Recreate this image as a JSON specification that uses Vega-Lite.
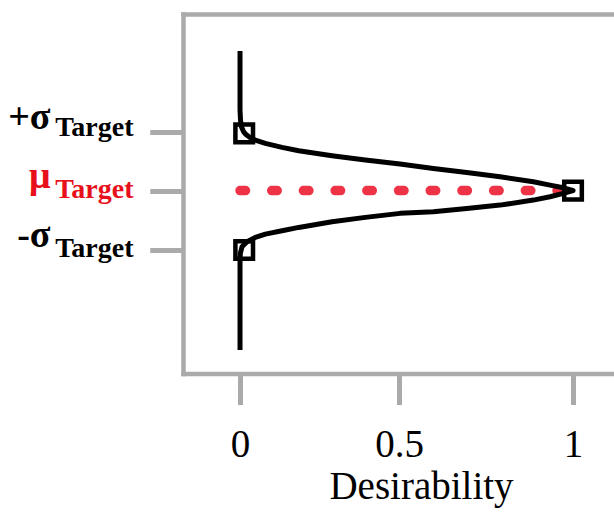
{
  "$schema": "https://vega.github.io/schema/vega-lite/v6.json",
  "autosize": "none",
  "width": 431,
  "height": 359.5,
  "padding": {"left": 183, "top": 14, "right": 0, "bottom": 153.5},
  "background": "white",
  "config": {
    "view": {"stroke": null},
    "axis": {"grid": false, "labelOverlap": false, "labelFlush": false, "labelBound": false},
    "font": "Liberation Serif"
  },
  "datasets": {
    "mu": [{"d": 0, "y": 0}, {"d": 1, "y": 0}],
    "curve": [
      {"i": 1, "d": 0, "y": 2.364},
      {"i": 2, "d": 0, "y": 1.364},
      {"i": 3, "d": 0.0022, "y": 1.195},
      {"i": 4, "d": 0.0063, "y": 1.076},
      {"i": 5, "d": 0.0139, "y": 1.0},
      {"i": 6, "d": 0.0231, "y": 0.949},
      {"i": 7, "d": 0.0373, "y": 0.898},
      {"i": 8, "d": 0.0556, "y": 0.856},
      {"i": 9, "d": 0.0892, "y": 0.8},
      {"i": 10, "d": 0.1434, "y": 0.732},
      {"i": 11, "d": 0.1963, "y": 0.675},
      {"i": 12, "d": 0.2992, "y": 0.59},
      {"i": 13, "d": 0.3998, "y": 0.517},
      {"i": 14, "d": 0.5028, "y": 0.449},
      {"i": 15, "d": 0.6004, "y": 0.376},
      {"i": 16, "d": 0.6972, "y": 0.308},
      {"i": 17, "d": 0.7929, "y": 0.234},
      {"i": 18, "d": 0.8877, "y": 0.149},
      {"i": 19, "d": 0.935, "y": 0.093},
      {"i": 20, "d": 0.9727, "y": 0.047},
      {"i": 21, "d": 0.9963, "y": 0.008},
      {"i": 22, "d": 1.0, "y": 0},
      {"i": 23, "d": 0.9727, "y": -0.047},
      {"i": 24, "d": 0.935, "y": -0.105},
      {"i": 25, "d": 0.8877, "y": -0.161},
      {"i": 26, "d": 0.7929, "y": -0.246},
      {"i": 27, "d": 0.6972, "y": -0.302},
      {"i": 28, "d": 0.6004, "y": -0.359},
      {"i": 29, "d": 0.5028, "y": -0.386},
      {"i": 30, "d": 0.3998, "y": -0.454},
      {"i": 31, "d": 0.2992, "y": -0.529},
      {"i": 32, "d": 0.1963, "y": -0.624},
      {"i": 33, "d": 0.1434, "y": -0.681},
      {"i": 34, "d": 0.0892, "y": -0.737},
      {"i": 35, "d": 0.0556, "y": -0.793},
      {"i": 36, "d": 0.0267, "y": -0.868},
      {"i": 37, "d": 0.0082, "y": -0.953},
      {"i": 38, "d": 0.0014, "y": -1.064},
      {"i": 39, "d": 0, "y": -1.234},
      {"i": 40, "d": 0, "y": -2.703}
    ],
    "pts": [
      {"d": 0.0165, "y": 0.969},
      {"d": 1, "y": 0},
      {"d": 0.0165, "y": -1.008}
    ]
  },
  "resolve": {"axis": {"x": "independent", "y": "independent"}},
  "layer": [
    {
      "data": {"name": "mu"},
      "mark": {"type": "line", "color": "#ef3346", "strokeWidth": 9.5, "strokeDash": [5.5, 26.2], "strokeCap": "round"},
      "encoding": {
        "x": {
          "field": "d", "type": "quantitative",
          "scale": {"type": "pow", "exponent": 1.066, "domain": [-0.191, 1.115], "nice": false, "zero": false},
          "axis": {
            "orient": "bottom", "values": [0, 0.5, 1], "format": "~g",
            "domain": true, "domainColor": "#aaaaaa", "domainWidth": 4.5, "domainCap": "square",
            "ticks": true, "tickSize": 31, "tickWidth": 5, "tickColor": "#aaaaaa",
            "labelFont": "Liberation Serif", "labelFontSize": 39, "labelColor": "black",
            "labelBaseline": "alphabetic", "labelPadding": 51.5,
            "title": "Desirability", "titleFont": "Liberation Serif", "titleFontSize": 39,
            "titleFontWeight": "normal", "titleColor": "black", "titleBaseline": "alphabetic",
            "titleX": 238, "titleY": 124.5, "titleAlign": "center", "titleAnchor": null
          }
        },
        "y": {
          "field": "y", "type": "quantitative",
          "scale": {"domain": [-3.1, 2.993], "nice": false, "zero": false},
          "axis": {
            "orient": "left", "values": [-1, 0, 1],
            "labelExpr": "datum.value > 0.5 ? '+σ' : (datum.value < -0.5 ? '-σ' : 'μ')",
            "domain": true, "domainColor": "#aaaaaa", "domainWidth": 4.5, "domainCap": "square",
            "ticks": true, "tickSize": 33, "tickWidth": 5, "tickColor": "#aaaaaa",
            "labelFont": "Liberation Serif", "labelFontSize": 38, "labelFontWeight": "bold",
            "labelColor": {"condition": {"test": "datum.value == 0", "value": "#e8101a"}, "value": "black"},
            "labelAlign": "right", "labelBaseline": "alphabetic", "labelPadding": 100, "labelOffset": -3,
            "title": null
          }
        }
      }
    },
    {
      "data": {"name": "curve"},
      "mark": {"type": "line", "color": "black", "strokeWidth": 5, "strokeJoin": "round"},
      "encoding": {
        "x": {
          "field": "d", "type": "quantitative",
          "axis": {
            "orient": "top", "labels": false, "ticks": false, "title": null,
            "domain": true, "domainColor": "#aaaaaa", "domainWidth": 4.5, "domainCap": "square"
          }
        },
        "y": {
          "field": "y", "type": "quantitative",
          "axis": {
            "orient": "left", "values": [-1, 0, 1], "labelExpr": "'Target'",
            "domain": false,
            "ticks": true, "tickSize": 33, "tickWidth": 5, "tickColor": "#aaaaaa",
            "labelFont": "Liberation Serif", "labelFontSize": 28, "labelFontWeight": "bold",
            "labelColor": {"condition": {"test": "datum.value == 0", "value": "#e8101a"}, "value": "black"},
            "labelAlign": "right", "labelBaseline": "alphabetic", "labelPadding": 17,
            "labelOffset": {"condition": {"test": "datum.value == 1", "value": 3.5}, "value": 7},
            "title": null
          }
        },
        "order": {"field": "i", "type": "quantitative"}
      }
    },
    {
      "data": {"name": "pts"},
      "mark": {"type": "point", "shape": "square", "size": 310, "filled": false, "stroke": "black", "strokeWidth": 4.5, "opacity": 1},
      "encoding": {
        "x": {"field": "d", "type": "quantitative", "axis": null},
        "y": {"field": "y", "type": "quantitative", "axis": null}
      }
    }
  ]
}
